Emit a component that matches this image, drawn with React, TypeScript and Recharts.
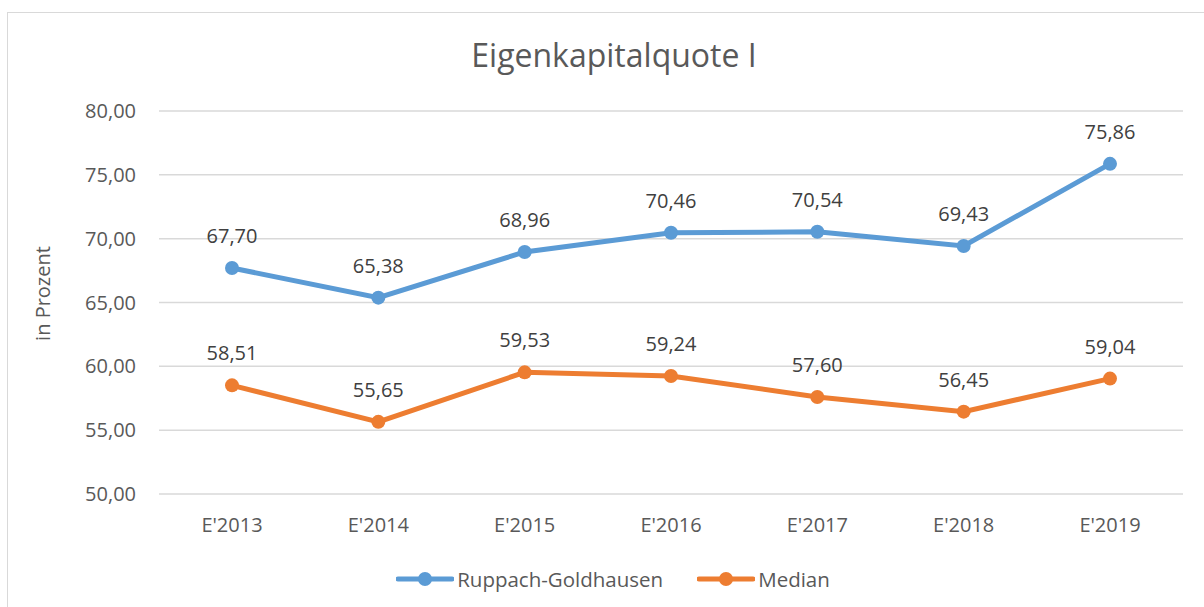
import { LineChart, Line, XAxis, YAxis, CartesianGrid, Legend, LabelList, Label } from 'recharts';

const years = ["E'2013", "E'2014", "E'2015", "E'2016", "E'2017", "E'2018", "E'2019"];
const ruppach = [67.7, 65.38, 68.96, 70.46, 70.54, 69.43, 75.86];
const median = [58.51, 55.65, 59.53, 59.24, 57.6, 56.45, 59.04];
const yTicks = [50, 55, 60, 65, 70, 75, 80];

const series = [
  { key: 'ruppach', name: 'Ruppach-Goldhausen', color: '#5b9bd5' },
  { key: 'median', name: 'Median', color: '#ed7d31' },
];

const chartData = years.map((year, i) => ({ year, ruppach: ruppach[i], median: median[i] }));

const fmt = (v: number) => v.toFixed(2).replace('.', ',');
const font = '"Open Sans", sans-serif';

const LegendContent = () => (
  <div style={{ display: 'flex', justifyContent: 'center', gap: 34, fontFamily: font, fontSize: 20.5, color: '#595959', paddingLeft: 22 }}>
    {series.map((s) => (
      <div key={s.key} style={{ display: 'flex', alignItems: 'center' }}>
        <svg width={58} height={16} style={{ marginRight: 3 }}>
          <line x1={2} y1={8} x2={56} y2={8} stroke={s.color} strokeWidth={5} strokeLinecap="round" />
          <circle cx={29} cy={8} r={7} fill={s.color} />
        </svg>
        <span>{s.name}</span>
      </div>
    ))}
  </div>
);

// axis title, nudged a bit above the plot's vertical middle like the original
const AxisTitle = (props: any) => {
  const { viewBox } = props;
  const x = viewBox.x - 17;
  const y = viewBox.y + viewBox.height / 2 - 9;
  return (
    <text x={x} y={y} transform={`rotate(-90, ${x}, ${y})`} textAnchor="middle" dominantBaseline="central" fill="#595959" fontSize={20} fontFamily={font}>
      in Prozent
    </text>
  );
};

const App = () => {
  return (
    <div style={{ position: 'absolute', left: 0, top: 0, width: 1204, height: 607, background: '#fff', overflow: 'hidden' }}>
      <div style={{ position: 'absolute', left: 7, top: 12, width: 1210, height: 610, border: '1px solid #d9d9d9' }} />
      <div style={{ position: 'absolute', left: 0, top: 0, width: 1204, textAlign: 'center', paddingTop: 33, fontFamily: font, fontSize: 32, color: '#595959', paddingLeft: 12 }}>
        Eigenkapitalquote I
      </div>
      <div style={{ position: 'absolute', left: 0, top: 0 }}>
        <LineChart width={1204} height={607} data={chartData} margin={{ top: 111, right: 21, left: 59, bottom: 45 }}>
          <CartesianGrid vertical={false} stroke="#d9d9d9" strokeWidth={1.5} />
          <XAxis
            dataKey="year"
            axisLine={false}
            tickLine={false}
            tickSize={0}
            tickMargin={24}
            height={40}
            padding={{ left: 73, right: 73 }}
            tick={{ fill: '#595959', fontSize: 20, fontFamily: font }}
          />
          <YAxis
            domain={[50, 80]}
            ticks={yTicks}
            width={100}
            axisLine={false}
            tickLine={false}
            tickSize={0}
            tickMargin={23}
            tickFormatter={fmt}
            tick={{ fill: '#595959', fontSize: 20, fontFamily: font }}
          >
            <Label content={<AxisTitle />} />
          </YAxis>
          <Legend verticalAlign="bottom" content={<LegendContent />} wrapperStyle={{ left: 0, width: 1204, bottom: 14 }} />
          {series.map((s) => (
            <Line
              key={s.key}
              dataKey={s.key}
              name={s.name}
              stroke={s.color}
              strokeWidth={5}
              strokeLinecap="round"
              dot={{ r: 7, fill: s.color, stroke: s.color, strokeWidth: 0 }}
              activeDot={false}
              isAnimationActive={false}
            >
              <LabelList dataKey={s.key} position="top" offset={25} formatter={fmt} style={{ fill: '#404040', fontSize: 20, fontFamily: font }} />
            </Line>
          ))}
        </LineChart>
      </div>
    </div>
  );
};

export default App;
